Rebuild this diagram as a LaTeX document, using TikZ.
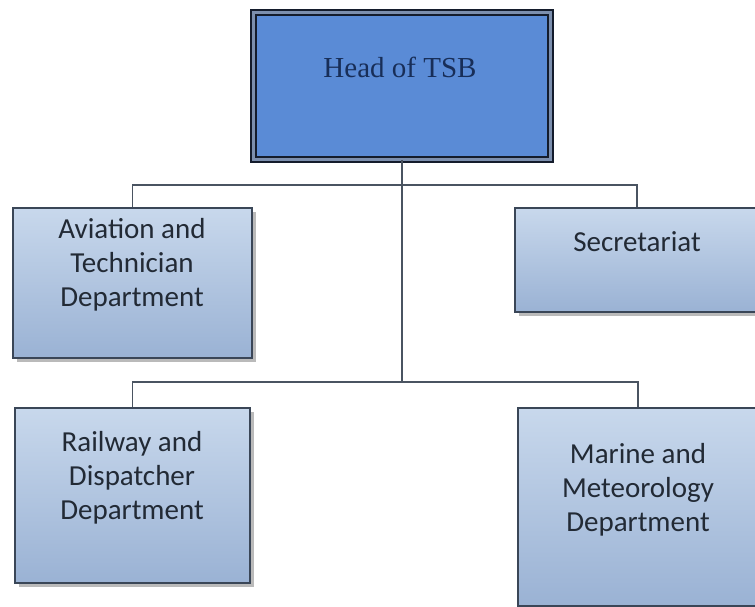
\documentclass[tikz,border=0pt]{standalone}
\usepackage{fontspec}
\setmainfont{Carlito}
\newfontfamily\headfont{Liberation Serif}
\usetikzlibrary{shadows}
\definecolor{headblue}{HTML}{5A8BD6}
\definecolor{headgap}{HTML}{7C8FAE}
\definecolor{headline}{HTML}{141C2C}
\definecolor{headtext}{HTML}{182E58}
\definecolor{boxtop}{HTML}{C8D8EC}
\definecolor{boxbot}{HTML}{9AB2D4}
\definecolor{boxline}{HTML}{3A4657}
\definecolor{conn}{HTML}{4A5461}
\definecolor{deptext}{HTML}{222A35}
\tikzset{
  deptbox/.style={rectangle, draw=boxline, line width=1.5pt, inner sep=0pt,
    top color=boxtop, bottom color=boxbot,
    drop shadow={shadow xshift=3.5pt, shadow yshift=-3.5pt, fill=black!45, opacity=0.6}},
  deptlabel/.style={align=center, text=deptext, font=\fontsize{29}{34}\selectfont, inner sep=0pt},
  headbox/.style={rectangle, draw=headline, line width=1.8pt, double=headgap, double distance=3pt,
    fill=headblue, inner sep=0pt},
  connector/.style={draw=conn, line width=1.7pt}
}
\begin{document}
\begin{tikzpicture}[x=1pt,y=-1pt]
\useasboundingbox (0,0) rectangle (755,607);
\fill[white] (0,0) rectangle (755,607);
% head
\node[headbox, minimum width=297pt, minimum height=147pt] (head) at (402,86) {};
\node[text=headtext, font=\headfont\fontsize{29}{34}\selectfont, inner sep=0pt] (headtxt) at (400,67) {Head of TSB};
% junctions
\coordinate (j1) at (402,185);
\coordinate (j2) at (402,382);
% boxes
\node[deptbox, minimum width=239pt, minimum height=150pt] (avi) at (132.5,283) {};
\node[deptbox, minimum width=244pt, minimum height=104pt] (sec) at (637,260) {};
\node[deptbox, minimum width=235pt, minimum height=175pt] (rail) at (132.5,495.5) {};
\node[deptbox, minimum width=240pt, minimum height=198pt] (mar) at (638,507) {};
% connectors
\draw[connector] (head.south) -- (j2);
\draw[connector] (avi.north) |- (j1) -| (sec.north);
\draw[connector] (rail.north) |- (j2) -| (mar.north);
% labels
\node[deptlabel] (avitxt) at (132,265) {Aviation and\\Technician\\Department};
\node[deptlabel] (sectxt) at (637,242) {Secretariat};
\node[deptlabel] (railtxt) at (132,478) {Railway and\\Dispatcher\\Department};
\node[deptlabel] (martxt) at (638,490) {Marine and\\Meteorology\\Department};
\end{tikzpicture}
\end{document}
